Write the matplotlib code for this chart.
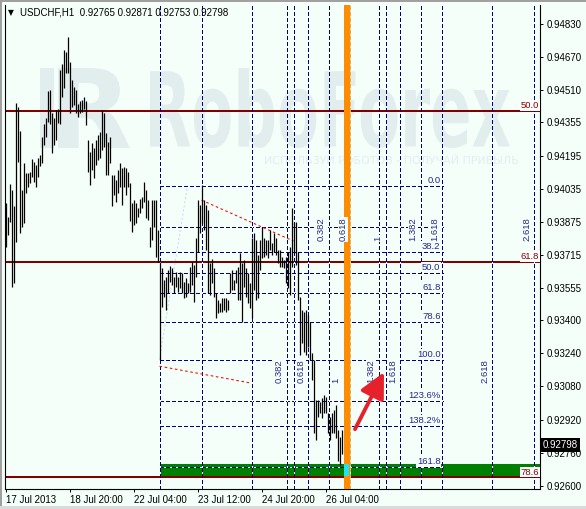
import matplotlib
matplotlib.use('Agg')
import matplotlib.pyplot as plt
import numpy as np
from matplotlib.patches import Rectangle, PathPatch
from matplotlib.textpath import TextPath
from matplotlib.font_manager import FontProperties
from matplotlib.transforms import Affine2D, IdentityTransform, blended_transform_factory

W, H, DPI = 586, 509, 100
plt.rcParams['font.family'] = ['Liberation Sans', 'DejaVu Sans']

# ---------------- data ----------------
symbol = "USDCHF,H1"
last_ohlc = ["0.92765", "0.92871", "0.92753", "0.92798"]
last_price = 0.92798

highs = [0.93966, 0.93898, 0.94057, 0.94028, 0.93951, 0.94449, 0.94429, 0.94313, 0.94028, 0.94159,
         0.94110, 0.94110, 0.94115, 0.94178, 0.94164, 0.94149, 0.94183, 0.94197, 0.94284, 0.94347,
         0.94376, 0.94507, 0.94511, 0.94400, 0.94376, 0.94415, 0.94420, 0.94608, 0.94637, 0.94705,
         0.94695, 0.94767, 0.94647, 0.94560, 0.94526, 0.94511, 0.94444, 0.94458, 0.94463, 0.94478,
         0.94458, 0.94270, 0.94212, 0.94255, 0.94231, 0.94270, 0.94294, 0.94308, 0.94415, 0.94400,
         0.94304, 0.94260, 0.94284, 0.94101, 0.94101, 0.94077, 0.94125, 0.94159, 0.94135, 0.94139,
         0.94135, 0.94115, 0.94062, 0.93966, 0.93980, 0.93966, 0.93941, 0.93985, 0.93995, 0.94067,
         0.94028, 0.93980, 0.93850, 0.93980, 0.93980, 0.93980, 0.93835, 0.93681, 0.93652, 0.93594,
         0.93608, 0.93642, 0.93661, 0.93652, 0.93608, 0.93632, 0.93608, 0.93632, 0.93627, 0.93584,
         0.93603, 0.93579, 0.93656, 0.93681, 0.93666, 0.93797, 0.93980, 0.93956, 0.94052, 0.93980,
         0.93956, 0.93932, 0.93676, 0.93695, 0.93652, 0.93531, 0.93497, 0.93483, 0.93507, 0.93507,
         0.93507, 0.93497, 0.93627, 0.93642, 0.93594, 0.93642, 0.93656, 0.93724, 0.93676, 0.93690,
         0.93652, 0.93627, 0.93579, 0.93797, 0.93821, 0.93787, 0.93714, 0.93787, 0.93850, 0.93797,
         0.93787, 0.93787, 0.93835, 0.93772, 0.93821, 0.93797, 0.93739, 0.93739, 0.93705, 0.93690,
         0.93705, 0.93729, 0.93753, 0.93941, 0.93874, 0.93874, 0.93729, 0.93512, 0.93449, 0.93439,
         0.93449, 0.93425, 0.93391, 0.93241, 0.93207, 0.93014, 0.93014, 0.93004, 0.93024, 0.93038,
         0.93029, 0.92951, 0.92932, 0.92951, 0.92966, 0.92990, 0.92869, 0.92835, 0.92871]
lows = [0.93753, 0.93811, 0.93874, 0.93560, 0.93579, 0.93777, 0.94164, 0.93821, 0.93850, 0.93869,
        0.94014, 0.94043, 0.94062, 0.94091, 0.94067, 0.94043, 0.94091, 0.94144, 0.94159, 0.94246,
        0.94284, 0.94357, 0.94347, 0.94207, 0.94246, 0.94270, 0.94352, 0.94347, 0.94478, 0.94521,
        0.94593, 0.94593, 0.94400, 0.94429, 0.94439, 0.94400, 0.94381, 0.94400, 0.94405, 0.94420,
        0.94342, 0.94115, 0.94052, 0.94125, 0.94086, 0.94149, 0.94173, 0.94183, 0.94222, 0.94236,
        0.94101, 0.94101, 0.94159, 0.93951, 0.94004, 0.93970, 0.94014, 0.94043, 0.93956, 0.94043,
        0.94004, 0.94043, 0.93879, 0.93825, 0.93859, 0.93869, 0.93898, 0.93917, 0.93941, 0.93970,
        0.93893, 0.93883, 0.93753, 0.93787, 0.93850, 0.93705, 0.93681, 0.93207, 0.93463, 0.93512,
        0.93449, 0.93531, 0.93584, 0.93569, 0.93531, 0.93560, 0.93536, 0.93555, 0.93531, 0.93507,
        0.93512, 0.93531, 0.93536, 0.93569, 0.93487, 0.93608, 0.93729, 0.93821, 0.93869, 0.93835,
        0.93739, 0.93531, 0.93521, 0.93579, 0.93512, 0.93410, 0.93434, 0.93439, 0.93439, 0.93449,
        0.93439, 0.93449, 0.93531, 0.93545, 0.93545, 0.93579, 0.93497, 0.93497, 0.93391, 0.93560,
        0.93512, 0.93483, 0.93458, 0.93410, 0.93545, 0.93497, 0.93507, 0.93642, 0.93700, 0.93705,
        0.93714, 0.93700, 0.93739, 0.93714, 0.93729, 0.93714, 0.93676, 0.93656, 0.93656, 0.93652,
        0.93579, 0.93555, 0.93521, 0.93656, 0.93724, 0.93666, 0.93497, 0.93231, 0.93289, 0.93246,
        0.93231, 0.93270, 0.93207, 0.93111, 0.92855, 0.92821, 0.92932, 0.92951, 0.92927, 0.92951,
        0.92951, 0.92855, 0.92821, 0.92855, 0.92855, 0.92831, 0.92720, 0.92700, 0.92753]

x_tick_bars = [0, 32, 64, 96, 128, 160]
x_tick_labels = ["17 Jul 2013", "18 Jul 20:00", "22 Jul 04:00", "23 Jul 12:00",
                 "24 Jul 20:00", "26 Jul 04:00"]
y_ticks = [0.94830, 0.94670, 0.94510, 0.94355, 0.94195, 0.94035, 0.93875, 0.93715,
           0.93555, 0.93400, 0.93240, 0.93080, 0.92920, 0.92760, 0.92600]

# large Fibonacci (dark red levels)
big_fib_labels = ["50.0", "61.8", "78.6"]
big_fib_prices = [0.94411, 0.93682, 0.92641]

# Fibonacci retracement (navy dashed); the 23.6 level label is hidden behind a time-zone label
fib_bar_low, fib_price_low = 77, 0.93210
fib_bar_high, fib_price_high = 91, 0.94050
fib_end_bar = 218.5
fib_levels = [0.0, 23.6, 38.2, 50.0, 61.8, 78.6, 100.0, 123.6, 138.2, 161.8]
fib_labels = ["0.0", "", "38.2", "50.0", "61.8", "78.6", "100.0", "123.6%", "138.2%", "161.8"]

# Fibonacci time zones (anchor bar, anchor price) pairs
tz_ratios = [0.382, 0.618, 1.0, 1.382, 1.618, 2.618]
tz_texts = ["0.382", "0.618", "1", "1.382", "1.618", "2.618"]
tz_lower = [(77, 0.93178), (123, 0.93096)]
tz_upper = [(98, 0.93980), (144, 0.93782)]

# target zone
zone_start_bar = 77
zone_low, zone_high = 0.92650, 0.92705

# arrow (bar, price)
arrow_from = (174.75, 0.92874)
arrow_to = (189.25, 0.93149)

# ---------------- styles ----------------
BG = '#F5FFFA'
NAVY = '#000080'
LBL = '#26268E'
DRED = '#800000'
DASH = (0, (2.9, 2.3))
FS = 6.8

fig = plt.figure(figsize=(W / DPI, H / DPI), dpi=DPI, facecolor=BG)
ax = fig.add_axes([5 / W, (H - 489) / H, 535 / W, 484 / H])
ax.set_facecolor(BG)
XMAX = 267.25
ax.set_xlim(-0.25, XMAX)
ax.set_ylim(0.92585, 0.94922)

# watermark
def stretched_text(s, x0, y0, x1, y1, color, weight='bold', z=0.5):
    fp = FontProperties(family='DejaVu Sans', weight=weight)
    tp = TextPath((0, 0), s, size=100, prop=fp)
    bb = tp.get_extents()
    tr = Affine2D().translate(-bb.x0, -bb.y0).scale((x1 - x0) / bb.width, (y1 - y0) / bb.height)\
        .translate(x0, H - y1)
    p = PathPatch(tr.transform_path(tp), facecolor=color, edgecolor='none',
                  transform=IdentityTransform(), zorder=z)
    p.set_clip_on(False)
    ax.add_artist(p)

WM = '#E2EDED'
stretched_text("RoboForex", 150, 68, 510, 148, WM, weight='bold')
stretched_text("R", 58, 68, 130, 148, WM, weight='bold')
ax.add_artist(Rectangle((40, H - 148), 14, 80, transform=IdentityTransform(), fc=WM, ec='none', zorder=0.5))
stretched_text("ИСПОЛЬЗУЙ РОБОТОВ - ПОЛУЧАЙ ПРИБЫЛЬ", 265, 154, 518, 164, WM, weight='normal')

# target zone
ax.add_patch(Rectangle((zone_start_bar, zone_low), XMAX - zone_start_bar + 1, zone_high - zone_low,
                       fc='#008000', ec='none', zorder=1.2))

# big fib red lines
for lab, p in zip(big_fib_labels, big_fib_prices):
    ax.axhline(p, color=DRED, lw=1.45, zorder=1.6)
    ax.text(266.75, p + 0.00004, lab, ha='right', va='bottom', color=DRED, fontsize=FS, zorder=6,
            bbox=dict(boxstyle='square,pad=0.08', fc='white', ec='none'))

# fib retracement
rng = fib_price_high - fib_price_low
for lv, lab in zip(fib_levels, fib_labels):
    p = fib_price_high - lv / 100.0 * rng
    ax.plot([fib_bar_low, fib_end_bar], [p, p], color=NAVY, lw=0.75, ls=DASH, gapcolor=BG,
            zorder=2, antialiased=False)
    if lab:
        ax.text(fib_end_bar - 1.0, p + 0.00005, lab, ha='right', va='bottom', color=LBL, fontsize=FS,
                zorder=5, bbox=dict(boxstyle='square,pad=0.08', fc=BG, ec='none'))
ax.plot([fib_bar_low, fib_bar_high], [fib_price_low, fib_price_high], color='#C9D8EE', lw=0.75,
        ls=(0, (2, 2)), zorder=1.8)

# time zones
tz_pos = {}
for name, ((a, pa), (b, pb)) in (('low', tz_lower), ('up', tz_upper)):
    d = b - a
    ax.plot([a, b], [pa, pb], color='#FF0000', lw=0.75, ls=(0, (2.5, 2.5)), zorder=2.2)
    for xv in (a, b):
        ax.axvline(xv, color=NAVY, lw=0.75, ls=DASH, gapcolor=BG, zorder=2, antialiased=False)
    for r, t in zip(tz_ratios, tz_texts):
        xv = b + r * d
        tz_pos[(name, t)] = xv
        ax.axvline(xv, color=NAVY, lw=0.75, ls=DASH, gapcolor=BG, zorder=2, antialiased=False)
        ax.text(xv - 3.75, pb, t, rotation=90, ha='center', va='bottom', color=LBL, fontsize=FS,
                zorder=5, bbox=dict(boxstyle='square,pad=0.08', fc=BG, ec='none'))

# orange cluster band
xo0, xo1 = tz_pos[('low', '1')], tz_pos[('up', '0.618')]
ax.axvspan(xo0, xo1, color='#FF8C00', zorder=3, lw=0)
ax.axvline(xo1 - 0.35, color='#FFD27A', lw=0.6, zorder=3.1)
ax.add_patch(Rectangle((xo0 + 0.4, zone_low), (xo1 - xo0) - 0.9, zone_high - zone_low,
                       fc='#1EE6F0', ec='none', zorder=3.2))

# price bars
idx = np.arange(len(highs))
ax.vlines(idx, lows, highs, color='black', lw=0.9, zorder=4, antialiased=True)

# arrow
ax.annotate('', xy=arrow_to, xytext=arrow_from,
            arrowprops=dict(arrowstyle='-|>,head_length=1.1,head_width=0.55', color='#E5222B',
                            lw=2.8, mutation_scale=14, shrinkA=0, shrinkB=0), zorder=6)

# axes styling
for s in ('left', 'right', 'bottom'):
    ax.spines[s].set_color('black')
    ax.spines[s].set_linewidth(0.8)
ax.spines['top'].set_visible(False)
ax.yaxis.tick_right()
ax.set_yticks(y_ticks)
ax.set_yticklabels([f"{v:.5f}" for v in y_ticks], fontsize=7)
ax.tick_params(axis='y', length=2.5, width=0.7, pad=2, colors='black')
ax.set_xticks(x_tick_bars)
ax.set_xticklabels(x_tick_labels, fontsize=7)
for lab in ax.get_xticklabels():
    lab.set_horizontalalignment('left')
ax.tick_params(axis='x', length=2.5, width=0.7, pad=2)

# current price box
tr = blended_transform_factory(ax.transAxes, ax.transData)
ax.annotate(f"{last_price:.5f}", xy=(1.0, last_price), xycoords=tr, xytext=(2.2, 0),
            textcoords='offset points', ha='left', va='center', fontsize=7, color='white',
            bbox=dict(boxstyle='square,pad=0.18', fc='black', ec='none'), zorder=7, annotation_clip=False)

# title
fig.text(8 / W, 1 - 12.5 / H, "▼", fontsize=5.5, family='DejaVu Sans', va='center', ha='left')
fig.text(20 / W, 1 - 12.5 / H, symbol + "  " + " ".join(last_ohlc), fontsize=7, va='center', ha='left')

# window frame
fig.patches.append(Rectangle((0, 0), 2 / W, 1, transform=fig.transFigure, fc='#A0A0A0', ec='none'))
fig.patches.append(Rectangle((0, 1 - 2 / H), 1, 2 / H, transform=fig.transFigure, fc='#A0A0A0', ec='none'))
fig.patches.append(Rectangle((0, 0), 1, 3 / H, transform=fig.transFigure, fc='#DADADA', ec='none'))

fig.savefig('out.png', dpi=DPI, facecolor=BG)
